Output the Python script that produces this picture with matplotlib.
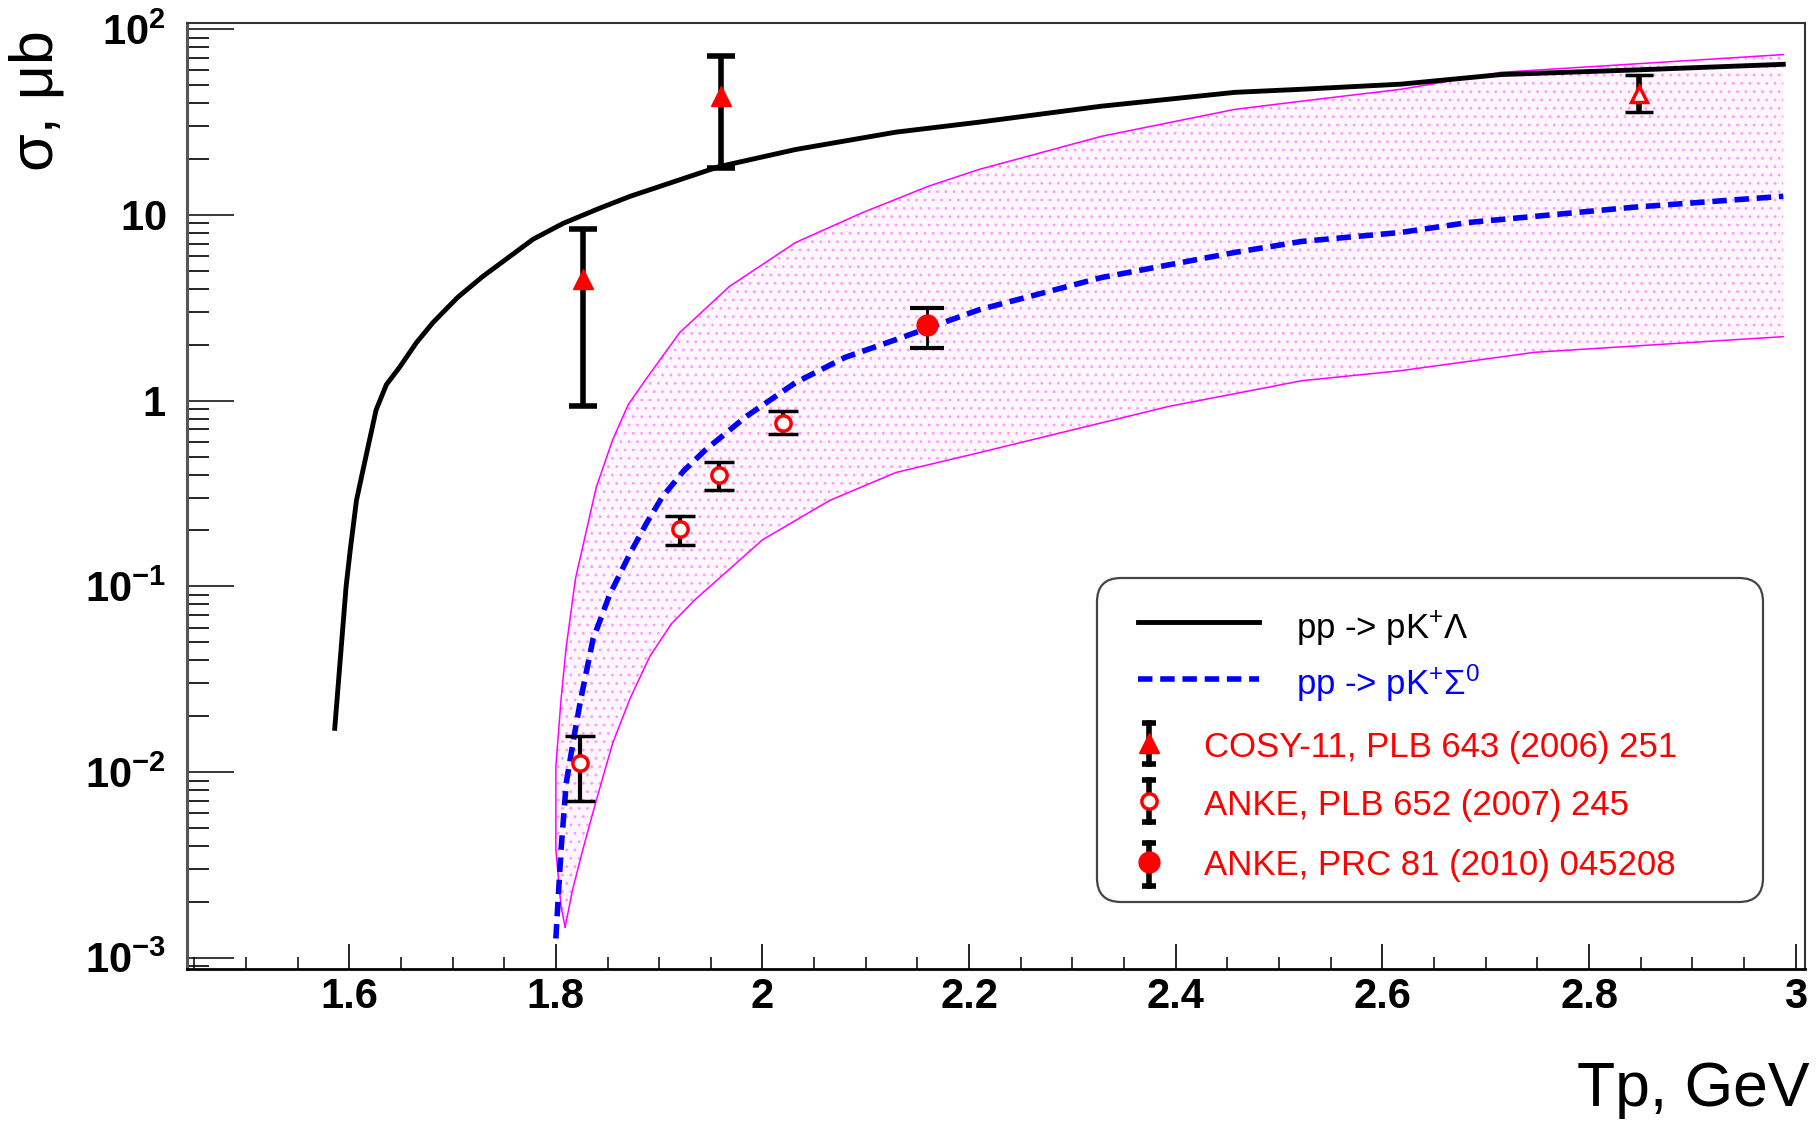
"""pp -> pK+Lambda / pK+Sigma0 cross sections vs beam energy (log scale)."""

import matplotlib
matplotlib.use("Agg")
import matplotlib.pyplot as plt
from matplotlib.lines import Line2D
from matplotlib.patches import FancyBboxPatch
from matplotlib.ticker import FixedLocator, LogLocator, MultipleLocator, NullFormatter
from matplotlib.transforms import IdentityTransform
import numpy as np

plt.rcParams["font.family"] = ["Liberation Sans", "DejaVu Sans"]
plt.rcParams["mathtext.fontset"] = "custom"
plt.rcParams["mathtext.rm"] = "Liberation Sans"
plt.rcParams["mathtext.bf"] = "Liberation Sans:bold"
plt.rcParams["mathtext.it"] = "Liberation Sans:italic"
plt.rcParams["hatch.linewidth"] = 0.8

# model curves (Tp in GeV, sigma in microbarn)
LAMBDA_T = [1.586, 1.597, 1.601, 1.607, 1.614, 1.626, 1.636, 1.649, 1.665,
            1.681, 1.705, 1.729, 1.778, 1.807, 1.843, 1.872, 1.958, 2.032,
            2.129, 2.210, 2.328, 2.457, 2.522, 2.618, 2.715, 2.850, 2.988]
LAMBDA_SIG = [0.0172, 0.10, 0.157, 0.29, 0.44, 0.89, 1.22, 1.52, 2.05,
              2.63, 3.6, 4.65, 7.4, 9.0, 10.9, 12.6, 18.2, 22.5,
              27.9, 31.6, 38.5, 45.7, 47.5, 50.6, 57.0, 60.5, 64.7]

SIGMA0_T = [1.800, 1.805, 1.810, 1.818, 1.824, 1.836, 1.852, 1.872, 1.888,
            1.903, 1.924, 1.945, 1.984, 2.032, 2.080, 2.129, 2.210, 2.328,
            2.457, 2.522, 2.618, 2.683, 2.843, 2.988]
SIGMA0_SIG = [0.00127, 0.0038, 0.0087, 0.016, 0.0245, 0.052, 0.09, 0.151, 0.22,
              0.303, 0.42, 0.544, 0.82, 1.25, 1.71, 2.13, 3.09, 4.6,
              6.28, 7.2, 8.05, 9.1, 11.0, 12.6]

BAND_HI_T = [1.809, 1.805, 1.800, 1.800, 1.805, 1.810, 1.819, 1.839, 1.855,
             1.870, 1.887, 1.920, 1.968, 2.032, 2.097, 2.161, 2.210, 2.328,
             2.457, 2.522, 2.618, 2.715, 2.988]
BAND_HI_SIG = [0.00146, 0.0019, 0.0038, 0.0107, 0.0245, 0.047, 0.11, 0.34, 0.616,
               0.95, 1.30, 2.33, 4.12, 7.1, 10.3, 14.3, 17.6, 26.5,
               37.0, 41.0, 47.5, 58.6, 73.0]
BAND_LO_T = [1.809, 1.816, 1.826, 1.839, 1.855, 1.872, 1.891, 1.912, 1.935,
             2.000, 2.065, 2.129, 2.210, 2.393, 2.522, 2.618, 2.747, 2.988]
BAND_LO_SIG = [0.00146, 0.0023, 0.0038, 0.0070, 0.0143, 0.025, 0.042, 0.063, 0.085,
               0.178, 0.29, 0.41, 0.525, 0.93, 1.28, 1.45, 1.82, 2.21]

# data points: value, lower and upper end of error bar
COSY_T = [1.826, 1.960]
COSY_SIG = [4.5, 43.5]
COSY_LO = [0.93, 18.0]
COSY_HI = [8.4, 71.5]

OPEN_TRI_T = [2.848]
OPEN_TRI_SIG = [44.7]
OPEN_TRI_LO = [35.7]
OPEN_TRI_HI = [57.0]

ANKE07_T = [1.823, 1.920, 1.958, 2.020]
ANKE07_SIG = [0.0112, 0.204, 0.40, 0.76]
ANKE07_LO = [0.0070, 0.168, 0.331, 0.66]
ANKE07_HI = [0.0157, 0.240, 0.469, 0.88]

ANKE10_T = [2.159]
ANKE10_SIG = [2.54]
ANKE10_LO = [1.93]
ANKE10_HI = [3.17]

XTICKS = [1.6, 1.8, 2.0, 2.2, 2.4, 2.6, 2.8, 3.0]
XTICK_LABELS = ["1.6", "1.8", "2", "2.2", "2.4", "2.6", "2.8", "3"]
YTICKS = [1e-3, 1e-2, 1e-1, 1, 10, 100]
YTICK_LABELS = [r"$\mathbf{10^{-3}}$", r"$\mathbf{10^{-2}}$", r"$\mathbf{10^{-1}}$",
                r"$\mathbf{1}$", r"$\mathbf{10}$", r"$\mathbf{10^{2}}$"]

LEGEND_LINES = ["pp -> pK$^{+}$Λ", "pp -> pK$^{+}$Σ$^{0}$"]
LEGEND_DATA = ["COSY-11, PLB 643 (2006) 251", "ANKE, PLB 652 (2007) 245",
               "ANKE, PRC 81 (2010) 045208"]

W, H = 1819, 1132


def err(sig, lo, hi):
    sig = np.asarray(sig)
    return [sig - np.asarray(lo), np.asarray(hi) - sig]


def fx(px):
    return px / W


def fy(py):
    return 1 - py / H


def main():
    fig = plt.figure(figsize=(W / 100, H / 100), dpi=100)
    ax = fig.add_axes([fx(187), fy(969), fx(1805) - fx(187), fy(23) - fy(969)])

    # uncertainty band
    poly_t = BAND_HI_T + BAND_LO_T[::-1]
    poly_s = BAND_HI_SIG + BAND_LO_SIG[::-1]
    ax.fill(poly_t, poly_s, facecolor="#fff6ff", edgecolor="#ff99ff",
            hatch="..", linewidth=0, zorder=1)
    ax.plot(BAND_HI_T, BAND_HI_SIG, color="#ff00ff", lw=1.1, zorder=2)
    ax.plot(BAND_LO_T, BAND_LO_SIG, color="#ff00ff", lw=1.1, zorder=2)

    ax.plot(LAMBDA_T, LAMBDA_SIG, color="black", lw=3.5, zorder=3)
    ax.plot(SIGMA0_T, SIGMA0_SIG, color="#0000ff", lw=4, dashes=(2.6, 1.4), zorder=3)

    ax.errorbar(COSY_T, COSY_SIG, yerr=err(COSY_SIG, COSY_LO, COSY_HI), fmt="^",
                ms=14, color="red", ecolor="black", elinewidth=4, capsize=10,
                capthick=4, zorder=5)
    ax.errorbar(OPEN_TRI_T, OPEN_TRI_SIG,
                yerr=err(OPEN_TRI_SIG, OPEN_TRI_LO, OPEN_TRI_HI), fmt="^",
                ms=12, mfc="white", mec="red", mew=2.5, ecolor="black",
                elinewidth=4, capsize=10, capthick=4, zorder=5)
    ax.errorbar(ANKE07_T, ANKE07_SIG, yerr=err(ANKE07_SIG, ANKE07_LO, ANKE07_HI),
                fmt="o", ms=11, mfc="white", mec="red", mew=2.5, ecolor="black",
                elinewidth=3, capsize=11, capthick=5, zorder=5)
    ax.errorbar(ANKE10_T, ANKE10_SIG, yerr=err(ANKE10_SIG, ANKE10_LO, ANKE10_HI),
                fmt="o", ms=15, color="red", ecolor="black", elinewidth=2,
                capsize=12, capthick=3, zorder=5)

    ax.set_xlim(1.443, 3.009)
    ax.set_yscale("log")
    ax.set_ylim(8.7e-4, 108)

    ax.set_xticks(XTICKS, XTICK_LABELS)
    ax.xaxis.set_minor_locator(MultipleLocator(0.05))
    ax.yaxis.set_major_locator(FixedLocator(YTICKS))
    ax.set_yticklabels(YTICK_LABELS)
    ax.yaxis.set_minor_locator(LogLocator(base=10, subs=range(2, 10), numticks=20))
    ax.yaxis.set_minor_formatter(NullFormatter())
    for lab in ax.get_xticklabels():
        lab.set_fontweight("bold")

    ax.tick_params(axis="x", which="major", direction="in", length=18, width=1.2,
                   pad=6, labelsize=30)
    ax.tick_params(axis="x", which="minor", direction="in", length=9, width=1.1)
    ax.tick_params(axis="y", which="major", direction="in", length=34, width=1.1,
                   pad=15, labelsize=30)
    ax.tick_params(axis="y", which="minor", direction="in", length=16, width=1.2)

    ax.spines["left"].set_color("#555555")
    ax.spines["left"].set_linewidth(2.2)
    ax.spines["bottom"].set_linewidth(2)
    for s in ("top", "right"):
        ax.spines[s].set_color("#333333")
        ax.spines[s].set_linewidth(1.5)

    fig.text(fx(37), fy(30), "σ, μb", rotation=90, ha="center", va="top",
             fontsize=44)
    fig.text(fx(1810), fy(1106), "Tp, GeV", ha="right", va="baseline", fontsize=45)

    # legend, laid out like the ROOT TLegend
    box = FancyBboxPatch((1097, H - 902), 1763 - 1097, 902 - 578,
                         boxstyle="round,pad=0,rounding_size=24",
                         transform=IdentityTransform(), facecolor="white",
                         edgecolor="#444444", linewidth=1.6, zorder=6)
    fig.add_artist(box)
    tf = fig.transFigure
    fig.add_artist(Line2D([fx(1138), fx(1259)], [fy(622), fy(622)], color="black",
                          lw=3.5, transform=tf, zorder=7))
    fig.add_artist(Line2D([fx(1138), fx(1259)], [fy(679), fy(679)], color="#0000ff",
                          lw=4, dashes=(2.6, 1.4), transform=tf, zorder=7))
    fig.text(fx(1296), fy(629), LEGEND_LINES[0], color="black", fontsize=25,
             va="center", zorder=8)
    fig.text(fx(1296), fy(683), LEGEND_LINES[1], color="#0000ff", fontsize=25,
             va="center", zorder=8)

    keys = [
        (743, 723, 764, dict(marker="^", ms=14, mfc="red", mec="red")),
        (801, 780, 822, dict(marker="o", ms=11, mfc="white", mec="red", mew=2.5)),
        (862, 843, 886, dict(marker="o", ms=15, mfc="red", mec="red")),
    ]
    for (yc, yt, yb, mk), label in zip(keys, LEGEND_DATA):
        x0 = fx(1149)
        fig.add_artist(Line2D([x0, x0], [fy(yt), fy(yb)], color="black", lw=4,
                              transform=tf, zorder=7))
        fig.add_artist(Line2D([x0, x0], [fy(yt), fy(yb)], ls="none", marker="_",
                              ms=10, mew=4, color="black", transform=tf, zorder=7))
        fig.add_artist(Line2D([x0], [fy(yc)], ls="none", transform=tf, zorder=8, **mk))
        fig.text(fx(1204), fy(yc + 4), label, color="#ff0000", fontsize=25,
                 va="center", zorder=8)

    fig.savefig("out.png", dpi=100)
    plt.close(fig)


if __name__ == "__main__":
    main()
